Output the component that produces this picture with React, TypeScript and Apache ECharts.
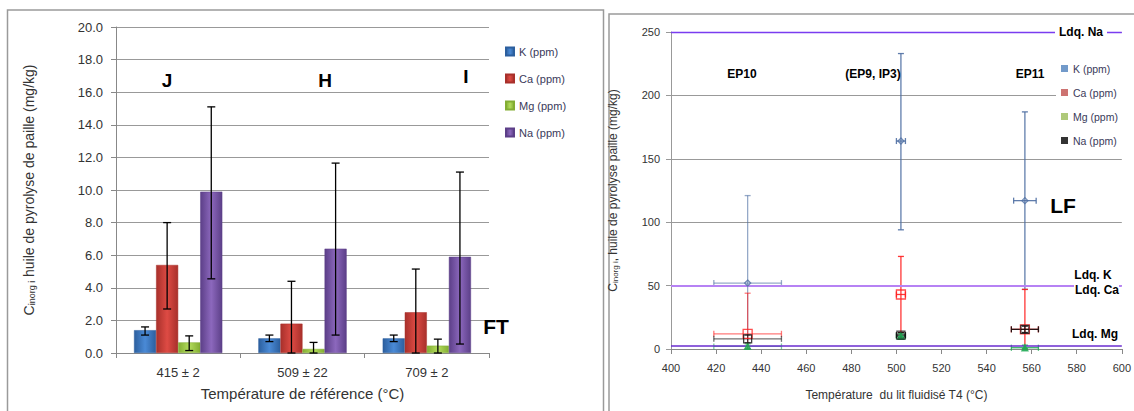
import React, { useEffect, useRef } from "react";
import * as echarts from "echarts";

// ---------- Left chart data (bar chart, reference temperature) ----------
const leftCategories = ["415 ± 2", "509 ± 22", "709 ± 2"];
const leftSeriesNames = ["K (ppm)", "Ca (ppm)", "Mg (ppm)", "Na (ppm)"];
const leftK = [1.4, 0.9, 0.9];
const leftCa = [5.4, 1.8, 2.5];
const leftMg = [0.65, 0.25, 0.45];
const leftNa = [9.9, 6.4, 5.9];
const leftKErr = [[1.1, 1.6], [0.7, 1.1], [0.7, 1.1]];
const leftCaErr = [[2.7, 8.0], [0.0, 4.4], [0.0, 5.15]];
const leftMgErr = [[0.15, 1.05], [0.0, 0.65], [0.0, 0.85]];
const leftNaErr = [[4.55, 15.1], [1.1, 11.65], [0.55, 11.1]];
const leftYTicks = { min: 0, max: 20, interval: 2 };
const leftLabels = ["J", "H", "I"];

// ---------- Right chart data (scatter, fluidised bed temperature T4) ----------
const rightSeriesNames = ["K (ppm)", "Ca (ppm)", "Mg (ppm)", "Na (ppm)"];
const rightT = [434, 502, 557];
const rightTErr = [[419, 449], [500, 504], [551, 563]];
const rightKTErr = [[419, 449], [500, 504], [552, 562]];
const rightK = [52, 164, 117];
const rightKErr = [[0, 121], [94, 233], [47, 187]];
const rightCa = [12, 43, 15.5];
const rightCaErr = [[0, 44], [13, 73], [0, 47]];
const rightMg = [2, 10, 1];
const rightMgErr = [[0, 4], [8, 12], [0, 3]];
const rightNa = [8, 11, 15.5];
const rightNaErr = [[5, 11], [9, 13], [13, 18]];
const rightLabels = ["EP10", "(EP9, IP3)", "EP11"];
const ldqValues = [250, 50, 2.5];
const ldqNames = ["Ldq. Na", "Ldq. K", "Ldq. Ca", "Ldq. Mg"];

const leftColors = [
  ["#2c5f9e", "#4a8ad6"],
  ["#a8302b", "#de4b44"],
  ["#83ad33", "#b3dc5c"],
  ["#5c3f88", "#8c68bd"],
];
const rightColors = ["#4f6fa3", "#ff2020", "#22aa55", "#111111"];
const rightLegendColors = ["#4f81bd", "#c0504d", "#9bbb59", "#000000"];

const FONT = "'Liberation Sans', Arial, sans-serif";
const NARROW = "'Liberation Sans Narrow', 'Liberation Sans', Arial, sans-serif";

export default function App() {
  const ref = useRef<HTMLDivElement>(null);
  useEffect(() => {
    if (!ref.current) return;
    const chart = echarts.init(ref.current, undefined, { renderer: "svg" });

    const leftValues = [leftK, leftCa, leftMg, leftNa];
    const leftErrs = [leftKErr, leftCaErr, leftMgErr, leftNaErr];
    const gapRatio = 0.29;

    const barSeries = leftValues.map((vals, k) => ({
      type: "bar",
      name: leftSeriesNames[k],
      xAxisIndex: 0,
      yAxisIndex: 0,
      data: vals,
      barGap: "0%",
      barCategoryGap: "29%",
      itemStyle: {
        color: new echarts.graphic.LinearGradient(0, 0, 1, 0, [
          { offset: 0, color: leftColors[k][0] },
          { offset: 0.5, color: leftColors[k][1] },
          { offset: 1, color: leftColors[k][0] },
        ]),
        borderColor: leftColors[k][0],
        borderWidth: 0.5,
      },
    }));

    const leftErrSeries = leftErrs.map((errs, k) => ({
      type: "custom",
      name: "err" + k,
      xAxisIndex: 0,
      yAxisIndex: 0,
      z: 5,
      data: errs.map((e, i) => [i, e[0], e[1]]),
      encode: { x: 0, y: [1, 2] },
      renderItem: (params: any, api: any) => {
        const c = api.value(0);
        const band = api.size([1, 0])[0];
        const bw = (band * (1 - gapRatio)) / 4;
        const x = api.coord([c, 0])[0] + (k - 1.5) * bw;
        const y1 = api.coord([c, api.value(1)])[1];
        const y2 = api.coord([c, api.value(2)])[1];
        const st = { stroke: "#000", lineWidth: 1.3 };
        return {
          type: "group",
          children: [
            { type: "line", shape: { x1: x, y1, x2: x, y2 }, style: st },
            { type: "line", shape: { x1: x - 4, y1, x2: x + 4, y2: y1 }, style: st },
            { type: "line", shape: { x1: x - 4, y1: y2, x2: x + 4, y2 }, style: st },
          ],
        };
      },
    }));

    const rVals = [rightK, rightCa, rightMg, rightNa];
    const rErrs = [rightKErr, rightCaErr, rightMgErr, rightNaErr];
    const rTErrs = [rightKTErr, rightTErr, rightTErr, rightTErr];
    const symbols = ["diamond", "rect", "triangle", "rect"];
    const symSizes = [6, 9, 6, 8];

    const rightScatter = rVals.map((vals, k) => ({
      type: "scatter",
      name: "r:" + rightSeriesNames[k],
      xAxisIndex: 1,
      yAxisIndex: 1,
      z: 6 + (k === 3 ? 1 : 0),
      symbol: symbols[k],
      symbolSize: symSizes[k],
      data: vals.map((v, i) => [rightT[i], v]),
      itemStyle: {
        color: k === 2 ? rightColors[k] : "rgba(255,255,255,0)",
        borderColor: rightColors[k],
        borderWidth: 1.3,
      },
      ...(k === 0
        ? {
            markLine: {
              silent: true,
              symbol: "none",
              label: { show: false },
              data: [
                { yAxis: ldqValues[0], lineStyle: { color: "#7a3cf0", width: 1.3, type: "solid" } },
                { yAxis: ldqValues[1], lineStyle: { color: "#b682f4", width: 2, type: "solid" } },
                { yAxis: ldqValues[2], lineStyle: { color: "#6a2ccf", width: 1.5, type: "solid" } },
              ],
            },
          }
        : {}),
    }));

    const rightErrSeries = rVals.map((vals, k) => ({
      type: "custom",
      name: "rerr" + k,
      xAxisIndex: 1,
      yAxisIndex: 1,
      z: 4,
      data: vals.map((v, i) => [rightT[i], v, rTErrs[k][i][0], rTErrs[k][i][1], rErrs[k][i][0], rErrs[k][i][1]]),
      encode: { x: [0, 2, 3], y: [1, 4, 5] },
      renderItem: (params: any, api: any) => {
        const p = api.coord([api.value(0), api.value(1)]);
        const xl = api.coord([api.value(2), api.value(1)])[0];
        const xh = api.coord([api.value(3), api.value(1)])[0];
        const yl = api.coord([api.value(0), api.value(4)])[1];
        const yh = api.coord([api.value(0), api.value(5)])[1];
        const col = rightColors[k];
        const st = { stroke: col, lineWidth: 1.3, opacity: params.dataIndex === 0 ? 0.6 : 0.9 };
        const cap = 3;
        return {
          type: "group",
          children: [
            { type: "line", shape: { x1: p[0], y1: yl, x2: p[0], y2: yh }, style: st },
            { type: "line", shape: { x1: p[0] - cap, y1: yh, x2: p[0] + cap, y2: yh }, style: st },
            { type: "line", shape: { x1: p[0] - cap, y1: yl, x2: p[0] + cap, y2: yl }, style: st },
            { type: "line", shape: { x1: xl, y1: p[1], x2: xh, y2: p[1] }, style: st },
            { type: "line", shape: { x1: xl, y1: p[1] - cap, x2: xl, y2: p[1] + cap }, style: st },
            { type: "line", shape: { x1: xh, y1: p[1] - cap, x2: xh, y2: p[1] + cap }, style: st },
          ],
        };
      },
    }));

    const boldText = (x: number, y: number, text: string, size: number, family = FONT, bg?: string) => ({
      type: "text",
      x,
      y,
      z: 100,
      style: {
        text,
        fill: "#000",
        font: `bold ${size}px ${family}`,
        align: "center",
        verticalAlign: "middle",
        backgroundColor: bg,
        padding: bg ? [1, 4] : 0,
      },
    });

    const option: any = {
      animation: false,
      backgroundColor: "#fff",
      textStyle: { fontFamily: FONT },
      grid: [
        { left: 116, right: 1134 - 489, top: 27, bottom: 411 - 353 },
        { left: 671, right: 1134 - 1122, top: 32, bottom: 411 - 349 },
      ],
      legend: [
        {
          data: leftSeriesNames,
          orient: "vertical",
          left: 500,
          top: 40,
          icon: "rect",
          itemWidth: 8,
          itemHeight: 8,
          itemGap: 14,
          textStyle: { fontSize: 11, color: "#3a3a5a", lineHeight: 13 },
          selectedMode: false,
        },
        {
          data: rightSeriesNames.map((n, k) => ({
            name: "r:" + n,
            itemStyle: { color: rightLegendColors[k], borderWidth: 0 },
          })),
          orient: "vertical",
          left: 1056,
          top: 60,
          icon: "rect",
          itemWidth: 7,
          itemHeight: 7,
          itemGap: 11,
          padding: [2, 5, 2, 5],
          backgroundColor: "#fff",
          formatter: (n: string) => n.replace("r:", ""),
          textStyle: { fontSize: 10.5, color: "#3a3a5a", lineHeight: 13 },
          selectedMode: false,
        },
      ],
      xAxis: [
        {
          type: "category",
          gridIndex: 0,
          data: leftCategories,
          name: "Température de référence (°C)",
          nameLocation: "middle",
          nameGap: 33,
          nameTextStyle: { fontSize: 15, color: "#333" },
          axisLine: { lineStyle: { color: "#888" } },
          axisTick: { show: true, length: 5, lineStyle: { color: "#888" } },
          axisLabel: { fontSize: 13, color: "#333", margin: 13 },
        },
        {
          type: "value",
          gridIndex: 1,
          min: 400,
          max: 600,
          interval: 20,
          name: "Température  du lit fluidisé T4 (°C)",
          nameLocation: "middle",
          nameGap: 40,
          nameTextStyle: { fontSize: 12, color: "#333" },
          splitLine: { show: false },
          axisLine: { lineStyle: { color: "#888" } },
          axisTick: { show: true, length: 5, lineStyle: { color: "#888" } },
          axisLabel: { fontSize: 11, color: "#333", margin: 13 },
        },
      ],
      yAxis: [
        {
          type: "value",
          gridIndex: 0,
          min: leftYTicks.min,
          max: leftYTicks.max,
          interval: leftYTicks.interval,
          name: "{c|C}{s|inorg i}{n| huile de pyrolyse de paille (mg/kg)}",
          nameLocation: "middle",
          nameGap: 80,
          nameTextStyle: {
            rich: {
              c: { fontSize: 14, color: "#333" },
              s: { fontSize: 9, color: "#333", verticalAlign: "bottom", padding: [6, 0, 0, 0] },
              n: { fontSize: 14, color: "#333" },
            },
          },
          axisLine: { show: true, lineStyle: { color: "#888" } },
          axisTick: { show: true, length: 5, lineStyle: { color: "#888" } },
          splitLine: { lineStyle: { color: "#999", width: 1 } },
          axisLabel: { fontSize: 13, color: "#333", margin: 13, formatter: (v: number) => v.toFixed(1) },
        },
        {
          type: "value",
          gridIndex: 1,
          min: 0,
          max: 250,
          interval: 50,
          name: "{c|C}{s|inorg i}{n|, huile de pyrolyse paille (mg/kg)}",
          nameLocation: "middle",
          nameGap: 52,
          nameTextStyle: {
            rich: {
              c: { fontSize: 12, color: "#333" },
              s: { fontSize: 8, color: "#333", verticalAlign: "bottom", padding: [5, 0, 0, 0] },
              n: { fontSize: 12, color: "#333" },
            },
          },
          axisLine: { show: true, lineStyle: { color: "#999" } },
          axisTick: { show: true, length: 5, lineStyle: { color: "#999" } },
          splitLine: { lineStyle: { color: "#999", width: 1 } },
          axisLabel: { fontSize: 11, color: "#333", margin: 11 },
        },
      ],
      series: [...barSeries, ...leftErrSeries, ...rightErrSeries, ...rightScatter],
      graphic: [
        {
          type: "rect",
          shape: { x: 7.5, y: 10, width: 596, height: 420 },
          style: { fill: "none", stroke: "#9a9a9a", lineWidth: 1.5 },
          z: -10,
        },
        {
          type: "rect",
          shape: { x: 609, y: 14, width: 540, height: 420 },
          style: { fill: "none", stroke: "#9a9a9a", lineWidth: 1.5 },
          z: -10,
        },
        {
          type: "rect",
          shape: { x: 1074, y: 280, width: 45, height: 10 },
          style: { fill: "#fff" },
          z: 90,
        },
        boldText(167, 80, leftLabels[0], 19),
        boldText(325, 80, leftLabels[1], 19),
        boldText(466, 76, leftLabels[2], 19),
        boldText(496, 326, "FT", 21),
        boldText(742, 74, rightLabels[0], 12, NARROW),
        boldText(873, 74, rightLabels[1], 12, NARROW),
        boldText(1030, 74, rightLabels[2], 12, NARROW),
        boldText(1063, 205, "LF", 21),
        boldText(1081, 32, ldqNames[0], 12, NARROW, "#fff"),
        boldText(1093, 275, ldqNames[1], 12, NARROW),
        boldText(1097, 290, ldqNames[2], 12, NARROW),
        boldText(1095, 334, ldqNames[3], 12, NARROW),
      ],
    };
    chart.setOption(option);
    return () => chart.dispose();
  }, []);
  return (
    <div
      ref={ref}
      style={{ position: "fixed", left: 0, top: 0, width: 1134, height: 411, background: "#fff" }}
    />
  );
}
